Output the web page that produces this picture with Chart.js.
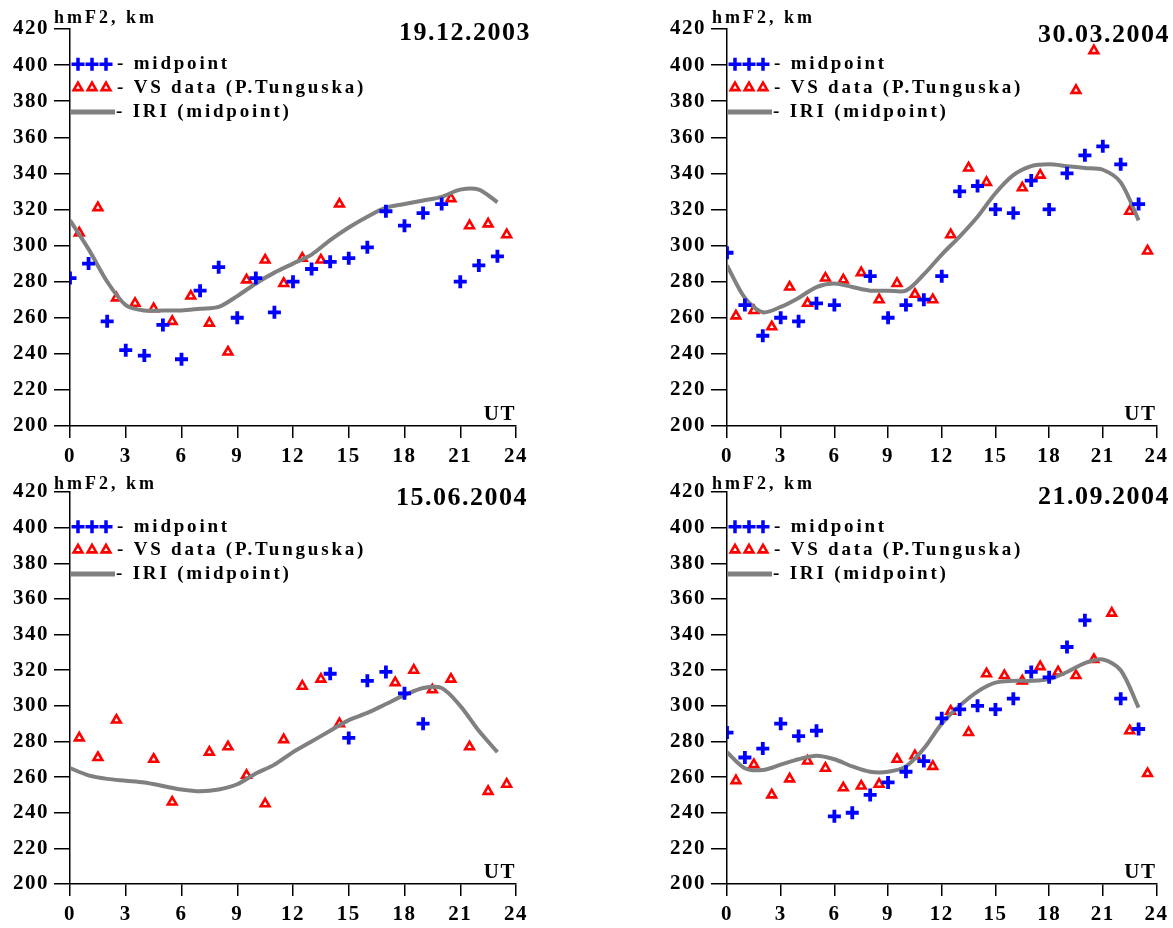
<!DOCTYPE html>
<html>
<head>
<meta charset="utf-8">
<title>hmF2 midpoint vs VS data</title>
<script src="https://cdn.jsdelivr.net/npm/chart.js@4.4.1/dist/chart.umd.min.js"></script>
<style>
  body { margin: 0; background: #fff; }
  #wrap { position: relative; width: 1173px; height: 928px; overflow: hidden; }
  canvas { position: absolute; }
</style>
</head>
<body>
<div id="wrap">
  <canvas id="c1" width="586" height="464" style="left:0;top:0"></canvas>
  <canvas id="c2" width="587" height="464" style="left:586px;top:0"></canvas>
  <canvas id="c3" width="586" height="464" style="left:0;top:464px"></canvas>
  <canvas id="c4" width="587" height="464" style="left:586px;top:464px"></canvas>
</div>
<script>
// UT hours: crosses and IRI on the hour, VS triangles on the half hour
const hours = [0, 1, 2, 3, 4, 5, 6, 7, 8, 9, 10, 11, 12, 13, 14, 15, 16, 17, 18, 19, 20, 21, 22, 23];
const halfHours = [0.5, 1.5, 2.5, 3.5, 4.5, 5.5, 6.5, 7.5, 8.5, 9.5, 10.5, 11.5,
                   12.5, 13.5, 14.5, 15.5, 16.5, 17.5, 18.5, 19.5, 20.5, 21.5, 22.5, 23.5];
const xTicks = [0, 3, 6, 9, 12, 15, 18, 21, 24];
const yTicks = [200, 220, 240, 260, 280, 300, 320, 340, 360, 380, 400, 420];
const dates = ['19.12.2003', '30.03.2004', '15.06.2004', '21.09.2004'];

// 19.12.2003
const mid1 = [282, 290, 258, 242, 239, 256, 237, 275, 288, 260, 282, 263, 280, 287, 291, 293, 299, 319, 311, 318, 323, 280, 289, 294];
const vs1  = [307, 321, 271, 268, 265, 258, 272, 257, 241, 281, 292, 279, 293, 292, 323, null, null, null, null, null, 326, 311, 312, 306];
const iri1 = [314, 298, 280, 267, 264, 264, 264, 265, 266, 272, 279, 285, 290, 295, 303, 310, 316, 321, 323, 325, 327, 331, 331, 324];

// 30.03.2004
const mid2 = [296, 267, 250, 260, 258, 268, 267, null, 283, 260, 267, 270, 283, 330, 333, 320, 318, 336, 320, 340, 350, 355, 345, 323];
const vs2  = [261, 264, 255, 277, 268, 282, 281, 285, 270, 279, 273, 270, 306, 343, 335, null, 332, 339, null, 386, 408, null, 319, 297];
const iri2 = [289, 271, 263, 266, 271, 277, 279, 277, 275, 275, 275, 284, 295, 305, 316, 329, 339, 344, 345, 344, 343, 342, 335, 314];

// 15.06.2004
const mid3 = [null, null, null, null, null, null, null, null, null, null, null, null, null, null, 318, 282, 314, 319, 307, 290, null, null, null, null];
const vs3  = [282, 271, 292, null, 270, 246, null, 274, 277, 261, 245, 281, 311, 315, 290, null, null, 313, 320, 309, 315, 277, 252, 256];
const iri3 = [265, 261, 259, 258, 257, 255, 253, 252, 253, 256, 262, 267, 274, 280, 286, 292, 296, 301, 306, 310, 310, 300, 286, 274];

// 21.09.2004
const mid4 = [285, 271, 276, 290, 283, 286, 238, 240, 250, 257, 263, 269, 293, 298, 300, 298, 304, 319, 316, 333, 348, null, 304, 287];
const vs4  = [258, 267, 250, 259, 269, 265, 254, 255, 256, 270, 272, 266, 297, 285, 318, 317, 314, 322, 319, 317, 326, 352, 286, 262];
const iri4 = [274, 265, 264, 267, 270, 272, 270, 266, 263, 263, 266, 276, 290, 300, 308, 313, 314, 314, 315, 319, 324, 326, 320, 299];

const serif = '"Liberation Serif", "Times New Roman", serif';
const BLUE = '#0000ff', RED = '#ff0000', GREY = '#808080';

function pts(xs, ys) {
    let out = [];
    for (let i = 0; i < xs.length; i++) {
        if (ys[i] !== null) out.push({ x: xs[i], y: ys[i] });
    }
    return out;
}

// texts, legend and letter spacing
const panelText = {
    id: 'panelText',
    beforeDraw(chart) {
        chart.ctx.letterSpacing = '1.5px';
    },
    afterDraw(chart, args, opts) {
        const ctx = chart.ctx;
        const area = chart.chartArea;
        const y = chart.scales.y;
        ctx.save();
        ctx.fillStyle = '#000';
        ctx.textBaseline = 'alphabetic';

        ctx.font = 'bold 18px ' + serif;
        ctx.letterSpacing = '3px';
        ctx.textAlign = 'left';
        ctx.fillText('hmF2, km', opts.hmfX, opts.hmfY);

        ctx.font = 'bold 26px ' + serif;
        ctx.letterSpacing = '1.5px';
        ctx.textAlign = 'right';
        ctx.fillText(opts.date, opts.dateX + 2, opts.dateY);

        ctx.font = 'bold 21px ' + serif;
        ctx.fillText('UT', area.right, area.bottom - 6);

        // legend
        const lx = area.left;
        const r1 = y.getPixelForValue(400.5);
        const r2 = y.getPixelForValue(387.5);
        const r3 = y.getPixelForValue(374);
        const offs = [8, 22, 36];

        ctx.strokeStyle = BLUE;
        ctx.lineWidth = 3.5;
        offs.forEach(dx => {
            ctx.beginPath();
            ctx.moveTo(lx + dx - 6.5, r1); ctx.lineTo(lx + dx + 6.5, r1);
            ctx.moveTo(lx + dx, r1 - 6.5); ctx.lineTo(lx + dx, r1 + 6.5);
            ctx.stroke();
        });

        ctx.strokeStyle = RED;
        ctx.fillStyle = '#fff';
        ctx.lineWidth = 2.6;
        offs.forEach(dx => {
            const cx = lx + dx, rr = 5;
            ctx.beginPath();
            ctx.moveTo(cx, r2 - rr);
            ctx.lineTo(cx + rr * 0.866, r2 + rr * 0.5);
            ctx.lineTo(cx - rr * 0.866, r2 + rr * 0.5);
            ctx.closePath();
            ctx.fill();
            ctx.stroke();
        });

        ctx.strokeStyle = GREY;
        ctx.lineWidth = 5;
        ctx.beginPath();
        ctx.moveTo(lx, r3); ctx.lineTo(lx + 45, r3);
        ctx.stroke();

        ctx.fillStyle = '#000';
        ctx.font = 'bold 19px ' + serif;
        ctx.letterSpacing = '2.8px';
        ctx.textAlign = 'left';
        ctx.textBaseline = 'middle';
        ctx.fillText('- midpoint', lx + 47, r1);
        ctx.fillText('- VS data (P.Tunguska)', lx + 47, r2);
        ctx.fillText('- IRI (midpoint)', lx + 46, r3);
        ctx.restore();
    }
};

function drawPanel(id, mid, vs, iri, box) {
    const tickFont = { family: serif, size: 21, weight: 'bold' };
    let ctx = document.getElementById(id).getContext('2d');
    return new Chart(ctx, {
        type: 'scatter',
        data: {
            datasets: [{
                label: 'midpoint',
                data: pts(hours, mid),
                pointStyle: 'cross',
                pointRadius: 6.5,
                borderColor: BLUE,
                borderWidth: 3.8,
                showLine: false
            }, {
                label: 'IRI (midpoint)',
                data: pts(hours, iri),
                showLine: true,
                borderColor: GREY,
                borderWidth: 4,
                pointRadius: 0,
                tension: 0.3,
                fill: false
            }, {
                label: 'VS data (P.Tunguska)',
                data: pts(halfHours, vs),
                pointStyle: 'triangle',
                pointRadius: 5,
                borderColor: RED,
                backgroundColor: '#fff',
                borderWidth: 2.6,
                showLine: false
            }]
        },
        options: {
            responsive: false,
            animation: false,
            events: [],
            layout: { padding: { left: 0, right: box.right, top: box.top, bottom: 0 } },
            plugins: {
                legend: { display: false },
                tooltip: { enabled: false },
                panelText: box.text
            },
            scales: {
                x: {
                    type: 'linear',
                    min: 0,
                    max: 24,
                    afterFit(s) { s.height = box.xHeight; },
                    afterBuildTicks(s) { s.ticks = xTicks.map(v => ({ value: v })); },
                    ticks: { autoSkip: false, maxRotation: 0, color: '#000', font: tickFont, padding: 6 },
                    grid: { drawOnChartArea: false, drawTicks: true, tickLength: 12, color: '#000', lineWidth: 1.5 },
                    border: { display: true, color: '#000', width: 1.5 }
                },
                y: {
                    min: 200,
                    max: 420,
                    afterFit(s) { s.width = box.yWidth; },
                    afterBuildTicks(s) { s.ticks = yTicks.map(v => ({ value: v })); },
                    ticks: { color: '#000', font: tickFont, padding: 5 },
                    grid: { drawOnChartArea: false, drawTicks: true, tickLength: 16, color: '#000', lineWidth: 1.5 },
                    border: { display: true, color: '#000', width: 1.5 }
                }
            }
        },
        plugins: [panelText]
    });
}

drawPanel('c1', mid1, vs1, iri1, { yWidth: 70, right: 70, top: 29, xHeight: 38,
    text: { date: dates[0], hmfX: 54, hmfY: 23, dateX: 529, dateY: 40 } });
drawPanel('c2', mid2, vs2, iri2, { yWidth: 141, right: 15, top: 29, xHeight: 38,
    text: { date: dates[1], hmfX: 126, hmfY: 23, dateX: 582, dateY: 42 } });
drawPanel('c3', mid3, vs3, iri3, { yWidth: 70, right: 70, top: 28, xHeight: 44,
    text: { date: dates[2], hmfX: 54, hmfY: 25, dateX: 526, dateY: 41 } });
drawPanel('c4', mid4, vs4, iri4, { yWidth: 141, right: 15, top: 28, xHeight: 44,
    text: { date: dates[3], hmfX: 126, hmfY: 25, dateX: 582, dateY: 40 } });
</script>
</body>
</html>
